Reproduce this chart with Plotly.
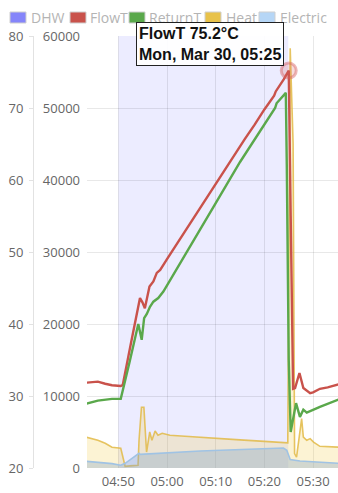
import plotly.graph_objects as go

DAY = "2026-03-30 "

# ---------------- data ----------------
flow_times = ["04:43:30", "04:45:48", "04:47:18", "04:48:42", "04:50:30", "04:50:54",
              "04:52:30", "04:53:30", "04:54:27", "04:54:57", "04:55:27", "04:56:24",
              "04:57:12", "04:57:54", "04:58:36", "05:00:00", "05:02:00", "05:04:00",
              "05:06:00", "05:08:00", "05:10:00", "05:12:00", "05:14:00", "05:16:00",
              "05:18:00", "05:20:00", "05:22:00", "05:22:20", "05:24:00", "05:25:00",
              "05:25:24", "05:25:54", "05:26:18", "05:27:12", "05:28:00", "05:29:24",
              "05:30:00", "05:31:24", "05:33:00", "05:35:12"]
flow_values = [31.85, 32.0, 31.7, 31.5, 31.4, 31.5,
               37.0, 40.3, 43.6, 43.0, 42.2, 45.2,
               45.9, 47.1, 47.5, 49.0, 51.1, 53.2,
               55.3, 57.3, 59.4, 61.5, 63.6, 65.7,
               67.7, 69.8, 71.7, 72.3, 74.0, 75.2,
               55.0, 31.0, 31.1, 33.2, 31.1, 30.4,
               30.5, 31.0, 31.2, 31.6]

return_times = ["04:43:30", "04:45:48", "04:48:42", "04:50:30", "04:52:18", "04:54:06",
                "04:54:48", "04:55:18", "04:55:51", "04:56:30", "04:57:12", "04:58:12",
                "04:59:15", "05:02:00", "05:06:48", "05:10:00", "05:15:00", "05:18:00",
                "05:22:12", "05:22:30", "05:24:24", "05:24:36", "05:25:00", "05:25:24",
                "05:26:30", "05:27:18", "05:28:00", "05:28:42", "05:31:24", "05:35:12"]
return_values = [28.95, 29.35, 29.6, 29.6, 34.7, 40.0,
                 37.8, 40.8, 41.4, 42.4, 43.1, 43.6,
                 44.5, 47.6, 53.1, 56.8, 62.5, 65.7,
                 70.0, 70.65, 72.1, 62.0, 35.0, 25.0,
                 29.0, 27.1, 28.1, 27.7, 28.5, 29.5]

heat_times = ["04:43:30", "04:45:48", "04:47:18", "04:48:42", "04:50:30", "04:51:24",
              "04:52:24", "04:54:03", "04:54:15", "04:54:45", "04:55:15", "04:55:48",
              "04:56:27", "04:56:54", "04:57:33", "04:58:09", "04:59:00", "05:00:36",
              "05:03:42", "05:10:00", "05:15:00", "05:20:00", "05:24:48", "05:25:18",
              "05:25:54", "05:26:12", "05:26:36", "05:27:39", "05:28:00", "05:28:42",
              "05:29:24", "05:30:06", "05:31:24", "05:35:12"]
heat_values = [4260, 3850, 3430, 2880, 2740, 240,
               300, 380, 3850, 8430, 8430, 2220,
               5000, 3850, 5140, 4540, 4820, 4540,
               4400, 4080, 3900, 3700, 3500, 58300,
               45000, 2000, 1500, 6860, 4300, 3850,
               4080, 3600, 3010, 2900]

elec_times = ["04:43:30", "04:48:42", "04:50:30", "04:51:24", "04:54:15", "04:54:30",
              "05:06:48", "05:13:36", "05:23:54", "05:24:36", "05:25:18", "05:27:18",
              "05:34:12", "05:35:12"]
elec_values = [930, 610, 380, 650, 2040, 1900,
               2360, 2550, 2780, 2460, 1170, 970,
               690, 650]

dhw_start = "04:50:00"
dhw_end = "05:24:54"

temp_ticks = [20, 30, 40, 50, 60, 70, 80]
power_ticks = [0, 10000, 20000, 30000, 40000, 50000, 60000]
time_ticks = ["04:50", "05:00", "05:10", "05:20", "05:30"]

series_names = ["DHW", "FlowT", "ReturnT", "Heat", "Electric"]
series_colors = ["#8585fa", "#c9524b", "#5aa84b", "#e8c24a", "#b6d6f6"]

# ---------------- layout constants ----------------
W, H = 338, 493
PL, PT, PB = 87, 36, 468  # plot area pixel bounds


def px(xp):
    return xp / W


def py(yp):
    return (H - yp) / H


def ts(lst):
    return [DAY + t for t in lst]


fig = go.Figure()

fig.add_trace(go.Scatter(
    x=ts(heat_times), y=heat_values, name="Heat", mode="lines",
    line=dict(color="rgba(226,186,70,0.85)", width=1.6),
    fill="tozeroy", fillcolor="rgba(240,200,60,0.22)",
    yaxis="y", showlegend=False, hoverinfo="skip"))

fig.add_trace(go.Scatter(
    x=ts(elec_times), y=elec_values, name="Electric", mode="lines",
    line=dict(color="rgba(160,195,228,1)", width=1.6),
    fill="tozeroy", fillcolor="rgba(135,165,200,0.36)",
    yaxis="y", showlegend=False, hoverinfo="skip"))

fig.add_trace(go.Scatter(
    x=ts(flow_times), y=flow_values, name="FlowT", mode="lines",
    line=dict(color=series_colors[1], width=2.4),
    yaxis="y2", showlegend=False, hoverinfo="skip"))

fig.add_trace(go.Scatter(
    x=ts(return_times), y=return_values, name="ReturnT", mode="lines",
    line=dict(color=series_colors[2], width=2.4),
    yaxis="y2", showlegend=False, hoverinfo="skip"))

# hover highlight at FlowT peak
imax = max(range(len(flow_values)), key=lambda i: flow_values[i])
fig.add_trace(go.Scatter(
    x=[DAY + flow_times[imax]], y=[flow_values[imax]], mode="markers",
    marker=dict(size=15, color="rgba(215,95,95,0.22)",
                line=dict(color="rgba(215,95,95,0.45)", width=3)),
    yaxis="y2", showlegend=False, hoverinfo="skip"))

# DHW band
fig.add_shape(type="rect", xref="x", yref="y domain",
              x0=DAY + dhw_start, x1=DAY + dhw_end, y0=0, y1=1,
              fillcolor="rgba(128,128,255,0.15)", line=dict(width=0), layer="below")

# manual legend
leg_box_x = [10, 70, 129, 205, 259]
leg_text_x = [29, 88, 147, 224, 278]
for name, col, bx, tx in zip(series_names, series_colors, leg_box_x, leg_text_x):
    fig.add_shape(type="rect", xref="paper", yref="paper",
                  x0=px(bx), x1=px(bx + 16), y0=py(23), y1=py(12),
                  fillcolor=col, line=dict(color="#cfcfcf", width=1))
    fig.add_annotation(xref="paper", yref="paper", x=px(tx), y=py(17.5),
                       xanchor="left", yanchor="middle", showarrow=False,
                       text=name, font=dict(family="Open Sans", size=14, color="#b4b4b4"))

# tooltip
peak_time = flow_times[imax][:5]
fig.add_annotation(
    xref="paper", yref="paper", x=px(136), y=py(22), xanchor="left", yanchor="top",
    showarrow=False, align="left",
    text=f"<b>FlowT {flow_values[imax]:.1f}°C</b><br><b>Mon, Mar 30, {peak_time}</b>",
    font=dict(family="Liberation Sans, Arial", size=16, color="#111"),
    bgcolor="rgba(255,255,255,0.93)", bordercolor="#222", borderwidth=1, borderpad=2)

tick_font = dict(family="Open Sans", size=13, color="#666")
grid_col = "rgba(0,0,0,0.09)"

fig.update_layout(
    width=W, height=H, autosize=False,
    margin=dict(l=0, r=0, t=0, b=0, pad=0),
    paper_bgcolor="white", plot_bgcolor="white",
    showlegend=False,
    xaxis=dict(
        domain=[px(PL), 1], type="date", automargin=False,
        range=[DAY + "04:43:34", DAY + "05:35:07"],
        tickvals=[DAY + t for t in time_ticks], ticktext=time_ticks,
        showgrid=True, gridcolor=grid_col, gridwidth=1,
        zeroline=False, showline=False, ticks="", tickfont=tick_font,
        ticklabelstandoff=4, fixedrange=True),
    yaxis=dict(
        domain=[py(PB), py(PT)], range=[0, 60000], automargin=False,
        tickvals=power_ticks, ticktext=[str(v) for v in power_ticks],
        showgrid=True, gridcolor=grid_col, gridwidth=1, zeroline=False,
        showline=False, ticks="", tickfont=tick_font, ticklabelstandoff=6,
        anchor="x"),
    yaxis2=dict(
        overlaying="y", anchor="free", position=px(33), side="left", automargin=False,
        range=[20, 80], tickvals=temp_ticks, ticktext=[str(v) for v in temp_ticks],
        showgrid=False, zeroline=False, showline=True, linecolor="#e2e2e2", linewidth=1,
        ticks="outside", ticklen=4, tickcolor="#e2e2e2", tickfont=tick_font,
        ticklabelstandoff=3),
)

fig.write_html("out.html")
